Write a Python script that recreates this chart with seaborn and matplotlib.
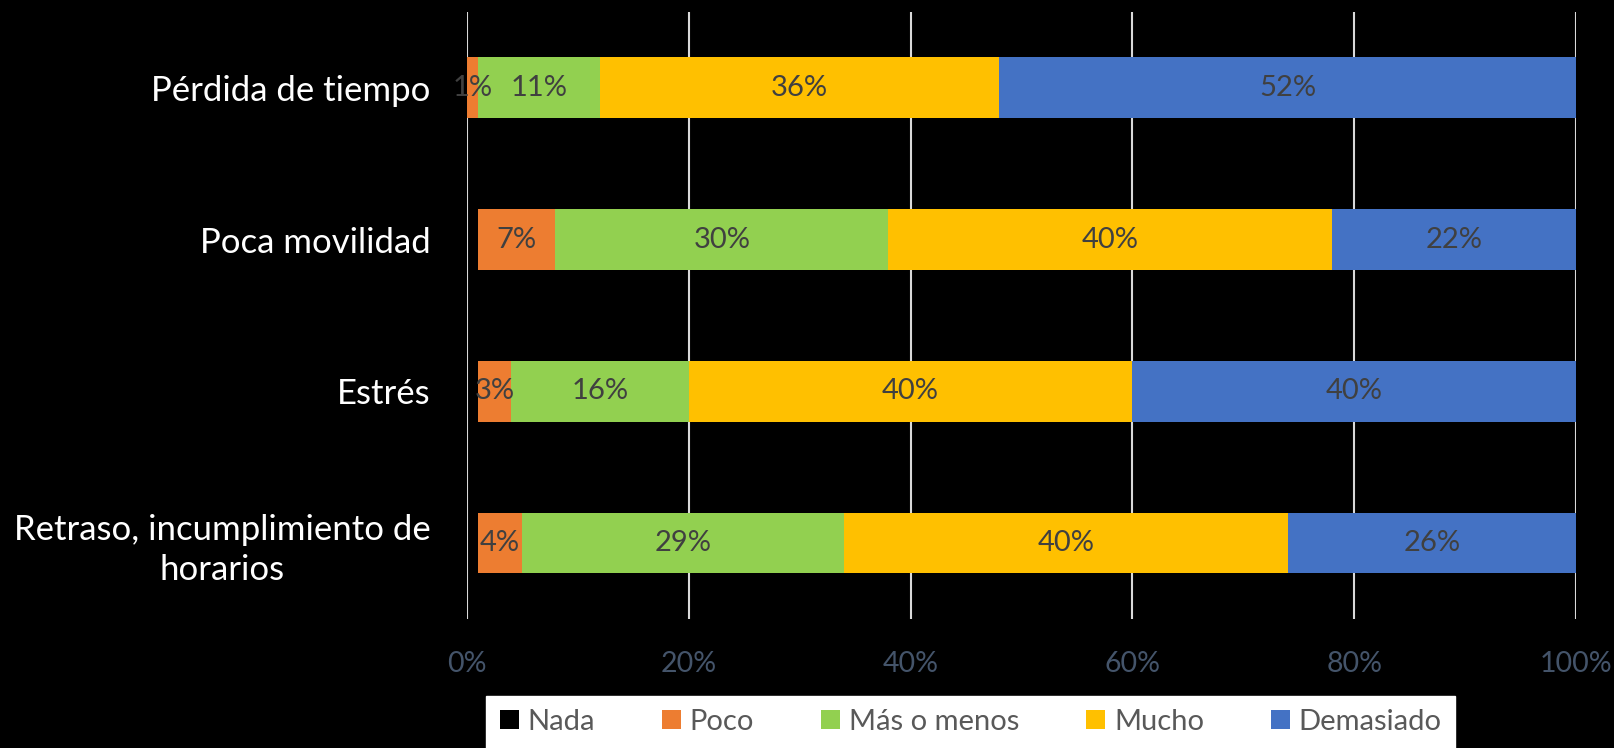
import numpy as np
import pandas as pd
import seaborn as sns
import matplotlib.pyplot as plt
from matplotlib.patches import Patch

categorias = ["Pérdida de tiempo", "Poca movilidad", "Estrés", "Retraso, incumplimiento de\nhorarios"]
niveles = ["Nada", "Poco", "Más o menos", "Mucho", "Demasiado"]
nada = [0, 1, 1, 1]
poco = [1, 7, 3, 4]
mas_o_menos = [11, 30, 16, 29]
mucho = [36, 40, 40, 40]
demasiado = [52, 22, 40, 26]
colores = ["#000000", "#ED7D31", "#92D050", "#FFC000", "#4472C4"]

valores = np.array([nada, poco, mas_o_menos, mucho, demasiado], dtype=float)
acumulado = valores.cumsum(axis=0)
inicio = acumulado - valores

df = pd.DataFrame({"categoria": categorias})
for i, n in enumerate(niveles):
    df[n] = valores[i]

sns.set_style("white")
plt.rcParams['font.family'] = ['Lato', 'DejaVu Sans']

fig = plt.figure(figsize=(16.15, 7.48), dpi=100, facecolor="black")
ax = fig.add_axes([0.289, 0.1725, 0.687, 0.8115])
ax.set_facecolor("black")

# cada serie se dibuja y luego se desplaza a su inicio acumulado
for i in range(len(niveles)):
    sns.barplot(data=df, x=niveles[i], y="categoria", orient="h", color=colores[i],
                saturation=1, width=0.4, linewidth=0, ax=ax,
                zorder=0.4 if i == 0 else 3)
    for j, p in enumerate(ax.containers[-1]):
        p.set_x(inicio[i, j])

# etiquetas de datos
for j in range(len(categorias)):
    for i in range(1, len(niveles)):
        v = valores[i, j]
        if v <= 0:
            continue
        centro = inicio[i, j] + v / 2
        ax.text(centro, j, f"{int(v)}%", ha="center", va="center",
                fontsize=21, color="#404040", zorder=4)

ax.set_xlim(0, 100)
ax.set_ylim(3.5, -0.5)
ax.set_xticks([0, 20, 40, 60, 80, 100])
ax.set_xticklabels([f"{t}%" for t in [0, 20, 40, 60, 80, 100]], fontsize=20.5, color="#44546A")
ax.tick_params(axis="x", length=0, pad=23)
ax.tick_params(axis="y", length=0, pad=26, labelsize=25, labelcolor="white")
for lab in ax.get_yticklabels():
    lab.set_multialignment("center")
    lab.set_linespacing(1.3)
ax.set_xlabel("")
ax.set_ylabel("")
ax.xaxis.grid(True, color="#D9D9D9", linewidth=1.5)
ax.set_axisbelow(True)
for s in ax.spines.values():
    s.set_visible(False)

handles = [Patch(facecolor=c, edgecolor="none") for c in colores]
leg = fig.legend(handles, niveles, loc="lower center", bbox_to_anchor=(0.601, 0.0),
                 ncol=5, frameon=True, fancybox=False, framealpha=1, fontsize=21,
                 handlelength=0.65, handleheight=0.65, handletextpad=0.3, columnspacing=2.3,
                 borderpad=0.45, borderaxespad=0)
leg.get_frame().set_facecolor("white")
leg.get_frame().set_edgecolor("white")
for t in leg.get_texts():
    t.set_color("#595959")

plt.savefig("out.png", facecolor="black")
